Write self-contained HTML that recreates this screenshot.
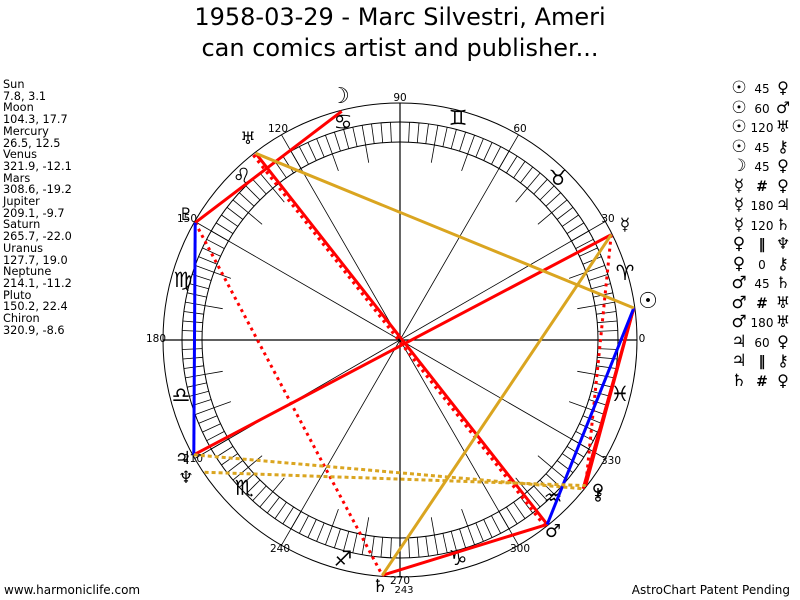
<!DOCTYPE html>
<html><head><meta charset="utf-8"><style>
body{margin:0;background:#fff;width:800px;height:600px;overflow:hidden;position:relative;font-family:"DejaVu Sans","Liberation Sans",sans-serif}
.t{position:absolute;left:0;width:800px;text-align:center;font-size:24px;color:#000}
#left{position:absolute;left:3px;top:79px;font-size:11.3px;line-height:11.7px;color:#000}
.leg{position:absolute;left:728px;font-size:13px;color:#000;white-space:nowrap}
.leg span{display:inline-block}
.g1{width:22px;text-align:center;font-size:17px}
.n{width:24px;text-align:center;font-size:12px}
.g2{width:18px;text-align:center;font-size:16px}
</style></head><body>
<div class="t" style="top:3px">1958-03-29 - Marc Silvestri, Ameri</div>
<div class="t" style="top:34px">can comics artist and publisher...</div>
<div id="left">Sun<br>7.8, 3.1<br>Moon<br>104.3, 17.7<br>Mercury<br>26.5, 12.5<br>Venus<br>321.9, -12.1<br>Mars<br>308.6, -19.2<br>Jupiter<br>209.1, -9.7<br>Saturn<br>265.7, -22.0<br>Uranus<br>127.7, 19.0<br>Neptune<br>214.1, -11.2<br>Pluto<br>150.2, 22.4<br>Chiron<br>320.9, -8.6</div>
<div id="legend"></div>
<svg id="s" width="800" height="600" style="position:absolute;left:0;top:0" xmlns="http://www.w3.org/2000/svg"></svg>
<div style="position:absolute;left:4px;top:583px;font-size:12px">www.harmoniclife.com</div>
<div style="position:absolute;right:10px;top:583px;font-size:12px">AstroChart Patent Pending</div>
<script>
var cx=400,cy=340,s='';
function P(a,r){a=a*Math.PI/180;return [cx+r*Math.cos(a),cy-r*Math.sin(a)];}
function L(a,b,c,w,d){s+='<line x1="'+a[0].toFixed(1)+'" y1="'+a[1].toFixed(1)+'" x2="'+b[0].toFixed(1)+'" y2="'+b[1].toFixed(1)+'" stroke="'+c+'" stroke-width="'+w+'"'+(d?' stroke-dasharray="'+d+'"':'')+'/>';}
function T(x,y,t,fs,anc){s+='<text x="'+x+'" y="'+y+'" font-size="'+fs+'" text-anchor="'+(anc||'middle')+'" font-family="DejaVu Sans,sans-serif">'+t+'</text>';}
s+='<circle cx="400" cy="340" r="237" fill="none" stroke="#000" stroke-width="1"/>';
s+='<circle cx="400" cy="340" r="218" fill="none" stroke="#000" stroke-width="1"/>';
s+='<circle cx="400" cy="340" r="198" fill="none" stroke="#000" stroke-width="1"/>';
for(var i=0;i<360;i+=2.5){L(P(i,198),P(i,218),'#000',0.8);}
for(var i=0;i<360;i+=10){if(i%30)L(P(i,180),P(i,198),'#000',0.8);}
for(var i=0;i<360;i+=30){L(P(i,0),P(i,237),'#000',(i%90)?0.8:1.2);}
var labs=[[0,642,342],[30,608,222],[60,520,132],[90,400,101],[120,278,132],[150,187,222],[180,156,342],[210,193,462],[240,280,552],[270,400,584],[300,520,552],[330,611,464]];
labs.forEach(function(l){T(l[1],l[2],l[0],10.5);});
var zod=['♈','♉','♊','♋','♌','♍','♎','♏','♐','♑','♒','♓'];
var zp=[[625,280],[558,185],[458,125],[343,129],[242,183],[183,287],[181,402],[244,495],[343,566],[458,565],[553,505],[620,401]];
zod.forEach(function(z,i){T(zp[i][0],zp[i][1],z+'\uFE0E',21);});
var R=236,pl={sun:7.8,moon:104.3,mer:26.5,ven:321.9,mar:308.6,jup:209.1,sat:265.7,ura:127.7,nep:214.1,plu:150.2,chi:320.9};
function Q(k,o){return P(pl[k],R-(o||0));}
function off(a,b,d){var dx=b[0]-a[0],dy=b[1]-a[1],l=Math.hypot(dx,dy);var nx=-dy/l*d,ny=dx/l*d;return [[a[0]+nx,a[1]+ny],[b[0]+nx,b[1]+ny]];}
var red='#ff0000',blue='#0000ff',gold='#daa520';
L(Q('moon'),Q('plu'),red,3);
L(Q('ura'),Q('mar'),red,3);
var o=off(Q('ura'),Q('mar'),3);L(o[0],o[1],red,3,'3,4');
L(Q('mer'),Q('jup'),red,3);
L(Q('sun'),Q('ven'),red,3);
L(Q('sun'),Q('chi'),red,3);
L(Q('mer'),Q('ven'),red,3,'3,4');
L(Q('mar'),Q('sat'),red,3);
L(Q('plu'),Q('sat'),red,3,'3,4');
L(Q('plu'),Q('jup'),blue,3);
L(Q('sun'),Q('mar'),blue,3);
L(Q('sun'),Q('ura'),gold,3);
L(Q('mer'),Q('sat'),gold,3);
L(Q('jup'),Q('chi'),gold,3,'4,3');
L(Q('nep'),Q('ven'),gold,3,'4,3');
var gl=[['☉',648,308,22],['☽',340,103,22],['☿',625,230,17],['♀',598,496,17],['⚷',598,500,17],['♂',553,537,18],['♃',183,464,18],['♄',380,592,18],['♅',248,144,17],['♆',186,483,17],['♇',186,220,17]];
gl.forEach(function(g){T(g[1],g[2],g[0]+'\uFE0E',g[3]);});
T(404,593,'243',10);
document.getElementById('s').innerHTML=s;
var rows=[['☉','45','♀'],['☉','60','♂'],['☉','120','♅'],['☉','45','⚷'],['☽','45','♀'],['☿','#','♀'],['☿','180','♃'],['☿','120','♄'],['♀','‖','♆'],['♀','0','⚷'],['♂','45','♄'],['♂','#','♅'],['♂','180','♅'],['♃','60','♀'],['♃','‖','⚷'],['♄','#','♀']];
var h='';rows.forEach(function(r,i){h+='<div class="leg" style="top:'+(78+i*19.5)+'px"><span class="g1">'+r[0]+'\uFE0E</span><span class="n"'+(r[1]=='#'||r[1]=='‖'?' style="font-weight:bold;font-size:14px"':'')+'>'+r[1]+'</span><span class="g2">'+r[2]+'\uFE0E</span></div>';});
document.getElementById('legend').innerHTML=h;
</script>
</body></html>
